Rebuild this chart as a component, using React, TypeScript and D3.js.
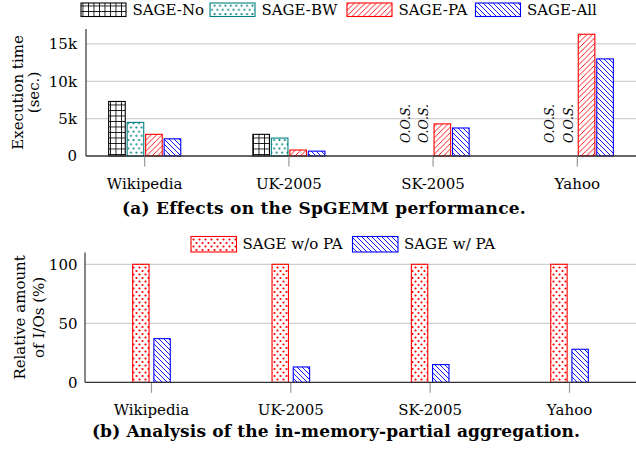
import React from "react";
import * as d3 from "d3";

const categories = ["Wikipedia", "UK-2005", "SK-2005", "Yahoo"];

// Top chart: execution time (sec.), null = O.O.S.
const seriesTop = ["SAGE-No", "SAGE-BW", "SAGE-PA", "SAGE-All"];
const sageNo: (number | null)[] = [7300, 2900, null, null];
const sageBW: (number | null)[] = [4500, 2400, null, null];
const sagePA: (number | null)[] = [2900, 800, 4300, 16300];
const sageAll: (number | null)[] = [2300, 650, 3750, 13000];
const topTicks = [0, 5000, 10000, 15000];
const topTickLabels = ["0", "5k", "10k", "15k"];

// Bottom chart: relative amount of I/Os (%)
const seriesBottom = ["SAGE w/o PA", "SAGE w/ PA"];
const woPA = [100, 100, 100, 100];
const wPA = [37, 13, 15, 28];
const bottomTicks = [0, 50, 100];

const FONT = "'DejaVu Serif', serif";
const W = 636;
const H = 450;

const topPatterns = ["url(#pGrid)", "url(#pDotsTeal)", "url(#pNERed)", "url(#pNWBlue)"];
const topStrokes = ["#000000", "#008080", "#ff0000", "#0000ff"];
const bottomPatterns = ["url(#pDotsRed)", "url(#pNWBlue)"];
const bottomStrokes = ["#ff0000", "#0000ff"];

export default function App() {
  const left = 86;
  const right = 636;
  const yTop = d3.scaleLinear().domain([0, 17000]).range([156, 29]);
  const xTop = d3.scalePoint<string>().domain(categories).range([left, right]).padding(0.407);
  const topData = [sageNo, sageBW, sagePA, sageAll];
  const barWTop = 16.6;
  const stepTop = 18.5;

  const yBot = d3.scaleLinear().domain([0, 110]).range([382.3, 252.5]);
  const xBot = d3.scalePoint<string>().domain(categories).range([85, right]).padding(0.477);
  const botData = [woPA, wPA];
  const barWBot = 16.4;
  const stepBot = 21.2;

  const tickFont = 15;
  const legFont = 15;
  const labFont = 15;
  const capFont = 17;

  const topLegendX = [81, 210, 347, 475.5];
  const botLegendX = [191, 352.5];

  return (
    <svg width={W} height={H} style={{ position: "absolute", left: 0, top: 0 }} fontFamily={FONT}>
      <defs>
        <pattern id="pGrid" patternUnits="userSpaceOnUse" width={5.5} height={5.5}>
          <path d="M0 0.4 H5.5 M0.4 0 V5.5" stroke="#000" strokeWidth={0.9} fill="none" />
        </pattern>
        <pattern id="pDotsTeal" patternUnits="userSpaceOnUse" width={5.4} height={8.4}>
          <circle cx={1.35} cy={1.5} r={1.05} fill="#008080" />
          <circle cx={4.05} cy={5.7} r={1.05} fill="#008080" />
        </pattern>
        <pattern id="pDotsRed" patternUnits="userSpaceOnUse" width={6} height={7}>
          <circle cx={1.5} cy={1.5} r={1.1} fill="#ff0000" />
          <circle cx={4.5} cy={5} r={1.1} fill="#ff0000" />
        </pattern>
        <pattern id="pNERed" patternUnits="userSpaceOnUse" width={5.5} height={5.5}>
          <path d="M0 5.5 L5.5 0 M-1 1 L1 -1 M4.5 6.5 L6.5 4.5" stroke="#ff0000" strokeWidth={0.9} />
        </pattern>
        <pattern id="pNWBlue" patternUnits="userSpaceOnUse" width={5} height={5}>
          <path d="M0 0 L5 5 M-1 4 L1 6 M4 -1 L6 1" stroke="#0000ff" strokeWidth={0.9} />
        </pattern>
      </defs>

      {/* ================= TOP CHART ================= */}
      {seriesTop.map((s, i) => (
        <g key={s}>
          <rect x={topLegendX[i]} y={3} width={45} height={13.5} fill="#fff" />
          <rect x={topLegendX[i]} y={3} width={45} height={13.5} fill={topPatterns[i]} stroke={topStrokes[i]} strokeWidth={1.1} />
          <text x={topLegendX[i] + 51.5} y={15.3} fontSize={legFont} fill="#000">{s}</text>
        </g>
      ))}

      {topTicks.filter((t) => t > 0).map((t) => (
        <line key={t} x1={left} x2={right} y1={yTop(t)} y2={yTop(t)} stroke="#cfcfcf" strokeWidth={1.3} />
      ))}

      {topData.map((arr, si) =>
        arr.map((v, ci) => {
          const cx = (xTop(categories[ci]) as number) + (si - 1.5) * stepTop;
          if (v === null) {
            return (
              <text
                key={`${si}-${ci}`}
                transform={`translate(${cx + 4.5},${yTop(0) - 13}) rotate(-90)`}
                fontSize={12.5}
                fontStyle="italic"
                fill="#000"
              >
                O.O.S.
              </text>
            );
          }
          const y = yTop(v);
          return (
            <g key={`${si}-${ci}`}>
              <rect x={cx - barWTop / 2} y={y} width={barWTop} height={yTop(0) - y} fill="#fff" />
              <rect
                x={cx - barWTop / 2}
                y={y}
                width={barWTop}
                height={yTop(0) - y}
                fill={topPatterns[si]}
                stroke={topStrokes[si]}
                strokeWidth={1.1}
              />
            </g>
          );
        })
      )}

      <line x1={left} x2={left} y1={29} y2={yTop(0)} stroke="#333" strokeWidth={1.2} />
      <line x1={left} x2={right} y1={yTop(0)} y2={yTop(0)} stroke="#333" strokeWidth={1.3} />
      {categories.map((c) => (
        <line key={c} x1={xTop(c)} x2={xTop(c)} y1={yTop(0) + 0.7} y2={yTop(0) + 10.5} stroke="#999" strokeWidth={1.2} />
      ))}
      {topTicks.map((t, i) => (
        <text key={t} x={77} y={yTop(t)} dy="0.36em" textAnchor="end" fontSize={tickFont} fill="#000">
          {topTickLabels[i]}
        </text>
      ))}
      {categories.map((c) => (
        <text key={c} x={xTop(c)} y={188.5} textAnchor="middle" fontSize={tickFont} fill="#000">
          {c}
        </text>
      ))}
      <text transform={`translate(22.5,${(29 + 156) / 2}) rotate(-90)`} textAnchor="middle" fontSize={labFont} fill="#000">
        Execution time
      </text>
      <text transform={`translate(39,${(29 + 156) / 2}) rotate(-90)`} textAnchor="middle" fontSize={labFont} fill="#000">
        (sec.)
      </text>
      <text x={324} y={214} textAnchor="middle" fontSize={capFont} letterSpacing={0.25} fontWeight="bold" fill="#000">
        (a) Effects on the SpGEMM performance.
      </text>

      {/* ================= BOTTOM CHART ================= */}
      {seriesBottom.map((s, i) => (
        <g key={s}>
          <rect x={botLegendX[i]} y={236.5} width={45.5} height={15.5} fill="#fff" />
          <rect x={botLegendX[i]} y={236.5} width={45.5} height={15.5} fill={bottomPatterns[i]} stroke={bottomStrokes[i]} strokeWidth={1.1} />
          <text x={botLegendX[i] + 51.5} y={248.8} fontSize={legFont} fill="#000">{s}</text>
        </g>
      ))}

      {bottomTicks.filter((t) => t > 0).map((t) => (
        <line key={t} x1={85} x2={right} y1={yBot(t)} y2={yBot(t)} stroke="#cfcfcf" strokeWidth={1.3} />
      ))}

      {botData.map((arr, si) =>
        arr.map((v, ci) => {
          const cx = (xBot(categories[ci]) as number) + (si - 0.5) * stepBot;
          const y = yBot(v);
          return (
            <g key={`${si}-${ci}`}>
              <rect x={cx - barWBot / 2} y={y} width={barWBot} height={yBot(0) - y} fill="#fff" />
              <rect
                x={cx - barWBot / 2}
                y={y}
                width={barWBot}
                height={yBot(0) - y}
                fill={bottomPatterns[si]}
                stroke={bottomStrokes[si]}
                strokeWidth={1.1}
              />
            </g>
          );
        })
      )}

      <line x1={85} x2={85} y1={252.5} y2={yBot(0)} stroke="#333" strokeWidth={1.2} />
      <line x1={85} x2={right} y1={yBot(0)} y2={yBot(0)} stroke="#333" strokeWidth={1.3} />
      {categories.map((c) => (
        <line key={c} x1={xBot(c)} x2={xBot(c)} y1={yBot(0) + 0.7} y2={yBot(0) + 10.5} stroke="#999" strokeWidth={1.2} />
      ))}
      {bottomTicks.map((t) => (
        <text key={t} x={77.5} y={yBot(t)} dy="0.36em" textAnchor="end" fontSize={tickFont} fill="#000">
          {t}
        </text>
      ))}
      {categories.map((c) => (
        <text key={c} x={xBot(c)} y={414.5} textAnchor="middle" fontSize={tickFont} fill="#000">
          {c}
        </text>
      ))}
      <text transform={`translate(24.5,${(252.5 + 382.3) / 2}) rotate(-90)`} textAnchor="middle" fontSize={labFont} fill="#000">
        Relative amount
      </text>
      <text transform={`translate(43.5,${(252.5 + 382.3) / 2}) rotate(-90)`} textAnchor="middle" fontSize={labFont} fill="#000">
        of I/Os (%)
      </text>
      <text x={336} y={437} textAnchor="middle" fontSize={capFont} letterSpacing={0.15} fontWeight="bold" fill="#000">
        (b) Analysis of the in-memory-partial aggregation.
      </text>
    </svg>
  );
}
